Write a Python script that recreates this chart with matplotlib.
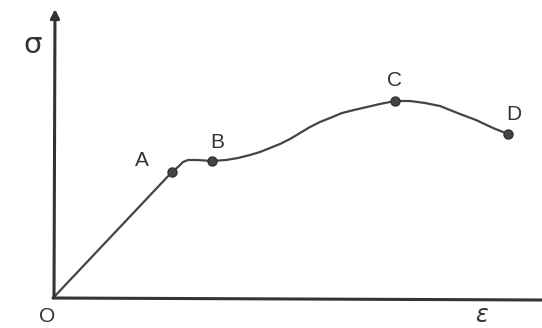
import matplotlib.pyplot as plt

# stress-strain curve, values (arbitrary units)
strain = [0, 118, 124, 129, 134, 143, 158, 172, 184, 196, 206, 216, 226, 236, 246,
          256, 266, 276, 288, 300, 313, 326, 341, 356, 371, 386, 406, 422, 439, 454]
stress = [0, 125, 130, 135, 137, 137, 136, 137, 139, 142, 145, 149, 153, 158, 164,
          170, 175, 179, 184, 187, 190, 193, 196, 196, 194, 191, 183, 177, 169, 163]

point_names = ["A", "B", "C", "D"]
point_strain = [118, 158, 341, 454]
point_stress = [125, 136, 196, 163]

fig = plt.figure(figsize=(5.42, 3.28), dpi=100)
ax = fig.add_axes([0, 0, 1, 1])
ax.set_xlim(-54, 488)
ax.set_ylim(-31, 297)
ax.axis("off")

ink = "#333333"

# axes with arrows
ax.annotate("", xy=(1, 288), xytext=(0, -1),
            arrowprops=dict(arrowstyle="-|>", color=ink, lw=2.2, mutation_scale=13,
                            shrinkA=0, shrinkB=0))
ax.annotate("", xy=(488, -3), xytext=(-1, -1),
            arrowprops=dict(arrowstyle="-", color=ink, lw=2.2, shrinkA=0, shrinkB=0))

# the curve
ax.plot(strain, stress, color="#444444", lw=1.6, solid_capstyle="round")
ax.plot(point_strain, point_stress, "o", color="#444444", ms=6.5, mec="#333333")

# point labels
offsets = [(-30, 11), (5, 18), (0, 21), (6, 20)]
for name, x, y, (dx, dy) in zip(point_names, point_strain, point_stress, offsets):
    ax.text(x + dx, y + dy, name, fontsize=15, color=ink, family="Liberation Sans",
            ha="center", va="center")

ax.text(-21, 252, "σ", fontsize=21, color=ink, ha="center", va="center")
ax.text(-7, -20, "O", fontsize=15, color=ink, family="Liberation Sans",
        ha="center", va="center")
ax.text(427, -18, "ε", fontsize=17, color=ink, ha="center", va="center",
        style="italic")

fig.savefig("out.png", dpi=100, facecolor="white")
